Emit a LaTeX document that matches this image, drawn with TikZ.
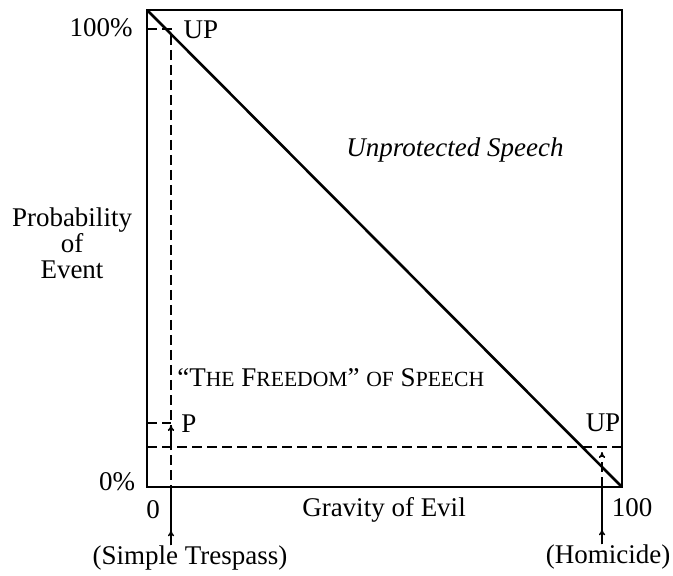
\documentclass[tikz,border=0pt]{standalone}
\usepackage{fontspec}
\setmainfont{Liberation Serif}
\usetikzlibrary{arrows.meta}
\newcommand{\smc}[1]{{\fontsize{10.8}{12}\selectfont #1}}

\begin{document}
\begin{tikzpicture}[x=0.5pt,y=-0.5pt,>={To[length=3pt,width=3.2pt]},
  every node/.style={font=\fontsize{13.5}{13}\selectfont,inner sep=0pt},
  frame/.style={line width=1.3pt},
  guide/.style={line width=0.75pt,dash pattern=on 5pt off 2.5pt},
  pointer/.style={line width=0.75pt}]
\useasboundingbox (0,0) rectangle (673,576);
% box and the line
\coordinate (tl) at (147,10);
\coordinate (tr) at (622,10);
\coordinate (bl) at (147,487);
\coordinate (br) at (622,487);
\draw[frame] (tl)--(tr)--(br)--(bl)--cycle;
\draw[frame] (tl)--(br);
% left case
\coordinate (up1) at (171,29);
\coordinate (p1) at (171,423);
\coordinate (c1) at (171,447);
\coordinate (x1) at (171,487);
\draw[guide] (tl |- up1)--(up1)--(x1);
\draw[guide] (tl |- p1)--(p1);
\draw[pointer,->] (c1)--(171,425);
% right case
\coordinate (c2) at (602,447);
\coordinate (x2) at (602,487);
\draw[guide] (tl |- c1)--(tr |- c1);
\draw[guide,->] (x2)--(602,452);
% labels
\node (top) at (101,28) {100\%};
\node (zero) at (117,482) {0\%};
\node (up) at (201,30) {UP};
\node (p) at (189,424) {P};
\node (up2) at (603,423) {UP};
\node (x0) at (153,510) {0};
\node (x100) at (632,508) {100};
\node (grav) at (384,510) {Gravity of Evil};
\node[align=center] (prob) at (72,243) {Probability\\of\\Event};
\node[font=\fontsize{13.5}{13}\selectfont\itshape] (unp) at (455,150) {Unprotected Speech};
\node[anchor=west] (free) at (177,378) {``T\smc{HE} F\smc{REEDOM}'' \smc{OF} S\smc{PEECH}};
\node (st) at (190,558) {(Simple Trespass)};
\node (hom) at (608,557) {(Homicide)};
% pointers from the cases
\draw[pointer] (x1 |- st.north)--(x1);
\draw[pointer,->] (x1 |- st.north)--++(0,-15);
\draw[pointer] (x2 |- hom.north)--(x2);
\draw[pointer,->] (x2 |- hom.north)--++(0,-15);
\end{tikzpicture}
\end{document}
